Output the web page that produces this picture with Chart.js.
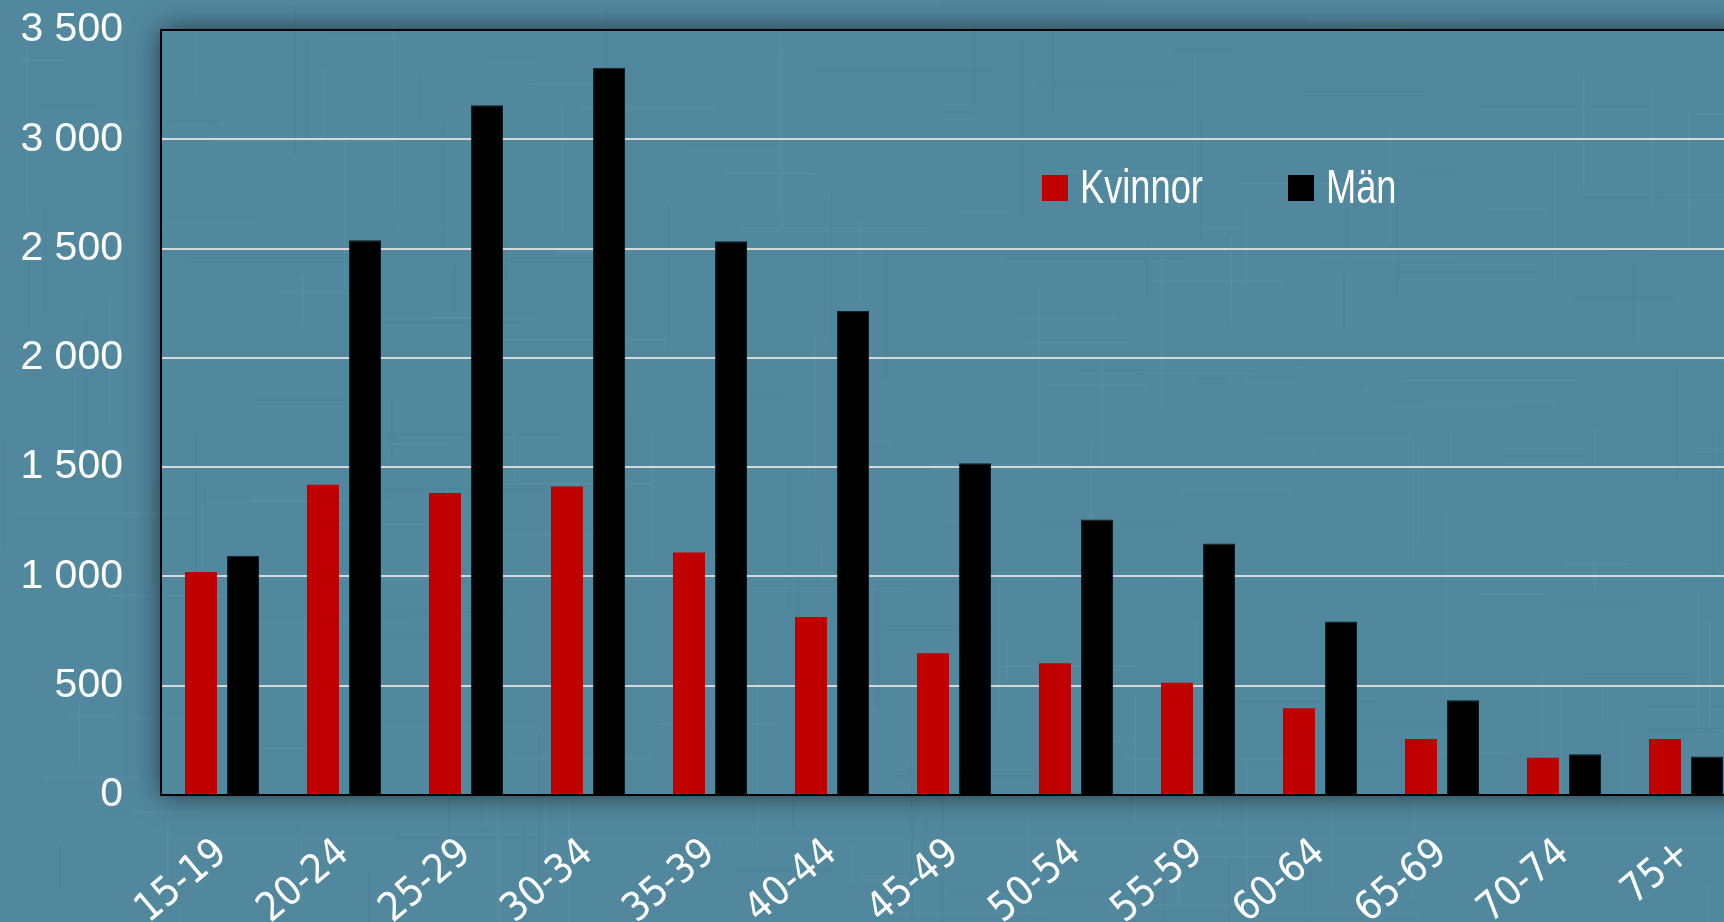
<!DOCTYPE html>
<html>
<head>
<meta charset="utf-8">
<title>Kvinnor och män per åldersgrupp</title>
<script src="https://cdn.jsdelivr.net/npm/chart.js"></script>
<style>
  html, body { margin: 0; padding: 0; overflow: hidden; background: #52889e; }
  #wrap { position: absolute; left: 0; top: 0; width: 1760px; height: 922px; }
</style>
</head>
<body>
<div id="wrap"><canvas id="ageChart"></canvas></div>
<script>
const ageGroups = ['15-19', '20-24', '25-29', '30-34', '35-39', '40-44', '45-49',
  '50-54', '55-59', '60-64', '65-69', '70-74', '75+'];
const kvinnor = [1020, 1420, 1382, 1412, 1110, 814, 648, 603, 513, 397, 256, 170, 256];
const man = [1095, 2538, 3156, 3327, 2533, 2216, 1518, 1261, 1151, 794, 434, 186, 176];
const yTicks = [0, 500, 1000, 1500, 2000, 2500, 3000, 3500];

const bg = '#52889e';

// faint linen-like streaks, fixed sequence so every render is the same
function drawLinen(ctx, w, h) {
  let s = 12345;
  const next = () => { s = (s * 1103515245 + 12345) % 2147483648; return s / 2147483648; };
  ctx.save();
  ctx.lineWidth = 1;
  for (let i = 0; i < 260; i++) {
    const x = next() * w, y = next() * h, len = 30 + next() * 160;
    const light = next() > 0.4;
    ctx.strokeStyle = light ? 'rgba(170,215,235,0.10)' : 'rgba(20,60,80,0.08)';
    ctx.beginPath();
    if (i % 2) { ctx.moveTo(x, y); ctx.lineTo(x, y + len); }
    else { ctx.moveTo(x, y); ctx.lineTo(x + len, y); }
    ctx.stroke();
  }
  ctx.restore();
}

// shadow + frame around the plot area
const frame = {
  id: 'frame',
  beforeDraw(chart) {
    const { ctx, chartArea: a } = chart;
    drawLinen(ctx, chart.width, chart.height);
    ctx.save();
    ctx.shadowColor = 'rgba(0,0,0,0.6)';
    ctx.shadowBlur = 26;
    ctx.fillStyle = bg;
    ctx.fillRect(a.left, a.top, a.right - a.left, a.bottom - a.top);
    ctx.restore();
    ctx.save();
    ctx.beginPath();
    ctx.rect(a.left, a.top, a.right - a.left, a.bottom - a.top);
    ctx.clip();
    drawLinen(ctx, chart.width, chart.height);
    ctx.restore();
  },
  afterDraw(chart) {
    const { ctx, chartArea: a } = chart;
    ctx.save();
    ctx.strokeStyle = '#000';
    ctx.lineWidth = 2;
    ctx.beginPath();
    ctx.moveTo(a.left, a.top);
    ctx.lineTo(a.right, a.top);
    ctx.stroke();
    ctx.restore();
  }
};

// legend drawn inside the plot, narrow type
const innerLegend = {
  id: 'innerLegend',
  afterDraw(chart) {
    const ctx = chart.ctx;
    const spots = [1042, 1288];
    ctx.save();
    chart.data.datasets.forEach((ds, i) => {
      const x = spots[i];
      ctx.fillStyle = ds.backgroundColor;
      ctx.fillRect(x, 175, 26, 26);
      ctx.save();
      ctx.translate(x + 38, 203);
      ctx.scale(0.755, 1);
      ctx.fillStyle = '#fff';
      ctx.font = '48px "Liberation Sans", Arial, sans-serif';
      ctx.textBaseline = 'alphabetic';
      ctx.fillText(ds.label, 0, 0);
      ctx.restore();
    });
    ctx.restore();
  }
};

new Chart(document.getElementById('ageChart'), {
  type: 'bar',
  data: {
    labels: ageGroups,
    datasets: [
      { label: 'Kvinnor', data: kvinnor, backgroundColor: '#c00000', borderWidth: 0 },
      { label: 'Män', data: man, backgroundColor: '#000000', borderColor: '#0b1a22', borderWidth: 1 }
    ]
  },
  options: {
    responsive: true,
    maintainAspectRatio: false,
    animation: false,
    layout: { padding: { top: 30, right: 13, bottom: 0, left: 0 } },
    datasets: { bar: { categoryPercentage: 0.69, barPercentage: 0.76 } },
    plugins: { legend: { display: false }, tooltip: { enabled: false } },
    scales: {
      x: {
        grid: { display: false },
        border: { display: true, color: '#000', width: 2 },
        ticks: {
          color: '#fff',
          font: { family: '"DejaVu Sans Condensed", "DejaVu Sans"', size: 40 },
          minRotation: 40,
          maxRotation: 40,
          padding: 27,
          autoSkip: false
        },
        afterFit(scale) { scale.height = 127; scale.paddingLeft = 0; scale.paddingRight = 0; }
      },
      y: {
        min: 0,
        max: 3500,
        afterBuildTicks(scale) { scale.ticks = yTicks.map(v => ({ value: v })); },
        grid: {
          color: ctx => (ctx.tick && (ctx.tick.value === 0 || ctx.tick.value === 3500)) ? 'rgba(0,0,0,0)' : '#d8d8d8',
          lineWidth: 2,
          drawTicks: false
        },
        border: { display: true, color: '#000', width: 2 },
        ticks: {
          color: '#fff',
          font: { family: '"Liberation Sans", Arial, sans-serif', size: 41 },
          padding: 38,
          callback: v => v >= 1000 ? Math.floor(v / 1000) + ' ' + String(v % 1000).padStart(3, '0') : String(v)
        },
        afterFit(scale) { scale.width = 161; scale.paddingTop = 0; scale.paddingBottom = 0; }
      }
    }
  },
  plugins: [frame, innerLegend]
});
</script>
</body>
</html>
